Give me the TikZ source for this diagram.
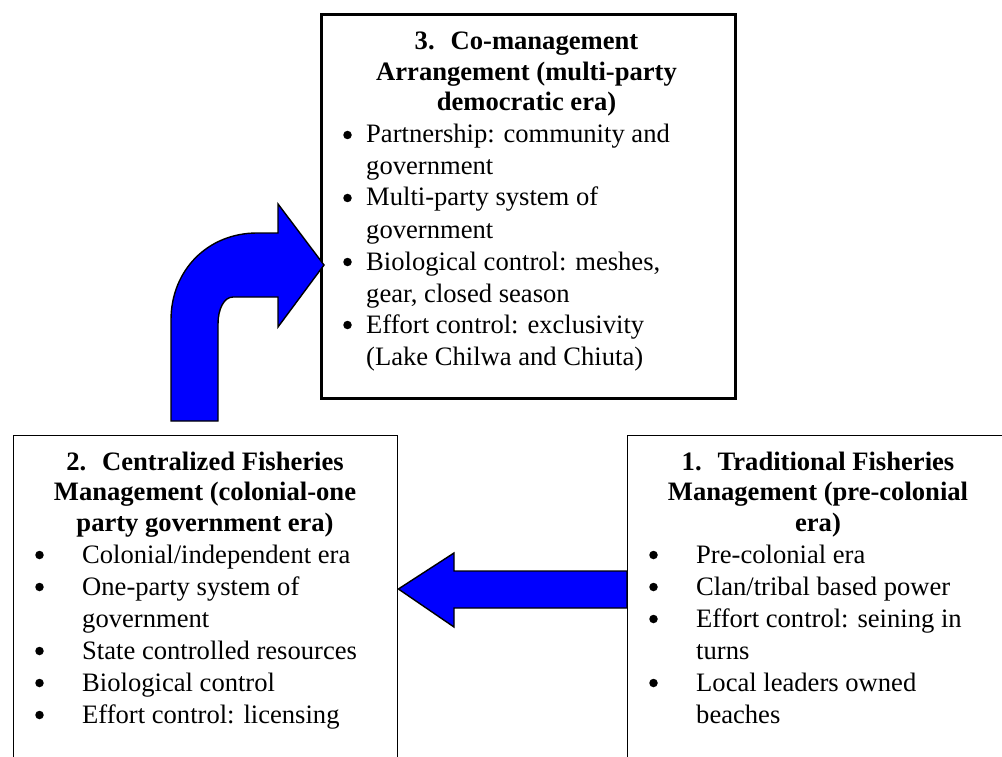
\documentclass[tikz,border=0pt]{standalone}
\usepackage{fontspec}
\newfontfamily\tnr{Liberation Serif}
\definecolor{arrblue}{RGB}{0,0,255}
\newcommand{\hdfont}{\tnr\fontsize{26.6pt}{30.5pt}\selectfont\bfseries}
\newcommand{\bdfont}{\tnr\fontsize{26.6pt}{31.85pt}\selectfont}
\begin{document}
\begin{tikzpicture}[x=1pt,y=-1pt,
  framebox/.style={draw=black, anchor=north west, inner sep=0pt, fill=none},
  hd/.style={anchor=base, inner sep=0pt},
  it/.style={anchor=base west, inner sep=0pt},
  dot/.style={circle, fill=black, inner sep=0pt, minimum size=8.5pt},
  blockarrow/.style={draw=black, line width=1.4pt, fill=arrblue, line join=miter}]
\useasboundingbox (0,0) rectangle (1002,757);

% boxes
\node[framebox, line width=3pt, minimum width=414pt, minimum height=383.5pt] (box3) at (319.5,13) {};
\node[framebox, line width=1.4pt, minimum width=384pt, minimum height=380pt] (box2) at (13,435) {};
\node[framebox, line width=1.4pt, minimum width=383pt, minimum height=380pt] (box1) at (627,435) {};

% box 3 texts
\node[hd] (h3a) at (526.5,50) {\hdfont 3.\hspace{0.6em}Co-management};
\node[hd] (h3b) at (526.5,80.5) {\hdfont Arrangement (multi-party};
\node[hd] (h3c) at (526.5,111) {\hdfont democratic era)};
\node[dot] (b3a) at (347.5,135) {};
\node[it] (l3a) at (366,143) {\bdfont Partnership: community and};
\node[it] (l3b) at (366,175) {\bdfont government};
\node[dot] (b3c) at (347.5,198) {};
\node[it] (l3c) at (366,206) {\bdfont Multi-party system of};
\node[it] (l3d) at (366,238) {\bdfont government};
\node[dot] (b3e) at (347.5,262) {};
\node[it] (l3e) at (366,270) {\bdfont Biological control: meshes,};
\node[it] (l3f) at (366,302) {\bdfont gear, closed season};
\node[dot] (b3g) at (347.5,325) {};
\node[it] (l3g) at (366,333) {\bdfont Effort control: exclusivity};
\node[it] (l3h) at (366,365) {\bdfont (Lake Chilwa and Chiuta)};

% box 2 texts
\node[hd] (h2a) at (205,470) {\hdfont 2.\hspace{0.6em}Centralized Fisheries};
\node[hd] (h2b) at (205,500.5) {\hdfont Management (colonial-one};
\node[hd] (h2c) at (205,531) {\hdfont party government era)};
\node[dot] (b2a) at (39.5,555) {};
\node[it] (l2a) at (82,563) {\bdfont Colonial/independent era};
\node[dot] (b2b) at (39.5,587) {};
\node[it] (l2b) at (82,595) {\bdfont One-party system of};
\node[it] (l2c) at (82,627) {\bdfont government};
\node[dot] (b2d) at (39.5,651) {};
\node[it] (l2d) at (82,659) {\bdfont State controlled resources};
\node[dot] (b2e) at (39.5,683) {};
\node[it] (l2e) at (82,691) {\bdfont Biological control};
\node[dot] (b2f) at (39.5,715) {};
\node[it] (l2f) at (82,723) {\bdfont Effort control: licensing};

% box 1 texts
\node[hd] (h1a) at (818,470) {\hdfont 1.\hspace{0.6em}Traditional Fisheries};
\node[hd] (h1b) at (818,500.5) {\hdfont Management (pre-colonial};
\node[hd] (h1c) at (818,531) {\hdfont era)};
\node[dot] (b1a) at (653.5,555) {};
\node[it] (l1a) at (696,563) {\bdfont Pre-colonial era};
\node[dot] (b1b) at (653.5,587) {};
\node[it] (l1b) at (696,595) {\bdfont Clan/tribal based power};
\node[dot] (b1c) at (653.5,619) {};
\node[it] (l1c) at (696,627) {\bdfont Effort control: seining in};
\node[it] (l1d) at (696,659) {\bdfont turns};
\node[dot] (b1e) at (653.5,683) {};
\node[it] (l1e) at (696,691) {\bdfont Local leaders owned};
\node[it] (l1f) at (696,723) {\bdfont beaches};

% straight block arrow from box 1 to box 2
\coordinate (a1tip) at (box2.east |- 0,589);
\draw[blockarrow] (box1.west |- 0,571) -- (454,571) -- (454,553) -- (a1tip)
  -- (454,627) -- (454,608) -- (box1.west |- 0,608) -- cycle;

% bent block arrow from box 2 up to box 3
\coordinate (a2tip) at (324,265);
\draw[blockarrow] (171,421) -- (171,320)
  .. controls (171,270) and (208,233) .. (257,233)
  -- (278,233) -- (278,204) -- (a2tip) -- (278,327) -- (278,297) -- (233,297)
  .. controls (224,297) and (218,309) .. (218,324)
  -- (218,421) -- cycle;
\end{tikzpicture}
\end{document}
